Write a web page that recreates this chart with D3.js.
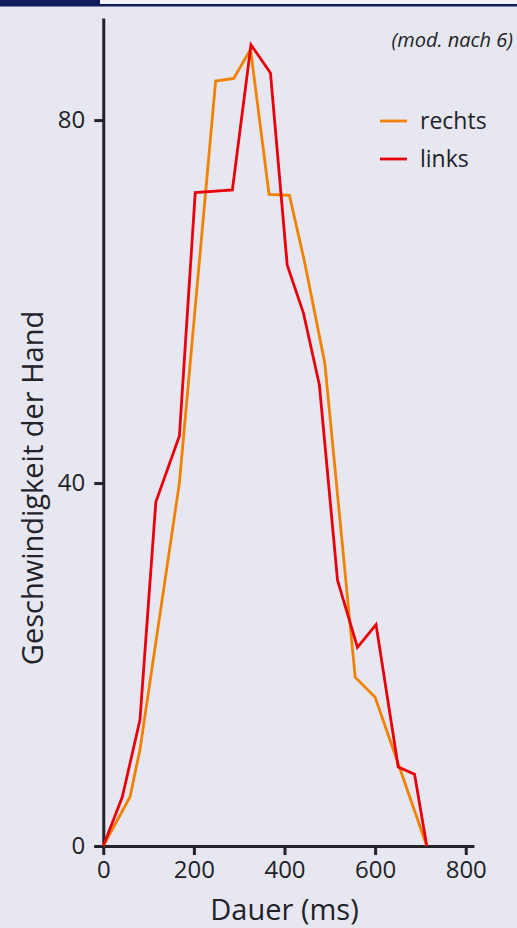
<!DOCTYPE html>
<html>
<head>
<meta charset="utf-8">
<script src="https://cdn.jsdelivr.net/npm/d3@7"></script>
<style>
  html, body { margin: 0; padding: 0; background: #e6e7f0; }
  svg { display: block; }
  text { font-family: "Open Sans", "Noto Sans", sans-serif; fill: #222228; }
</style>
</head>
<body>
<svg id="chart" width="517" height="928"></svg>
<script>
// Hand velocity over movement duration, right vs. left hand
const timeRechts = [0, 59, 81, 168, 248, 288, 325, 366, 411, 445, 489, 556, 600, 714];
const speedRechts = [0, 5.4, 10.6, 40, 84.3, 84.6, 87.8, 71.8, 71.7, 64.2, 53.2, 18.6, 16.4, 0];

const timeLinks = [0, 42, 81, 116, 168, 203, 285, 326, 369, 406, 442, 477, 517, 561, 602, 651, 687, 714];
const speedLinks = [0, 5.4, 13.9, 37.9, 45.2, 72.0, 72.3, 88.3, 85.2, 64.0, 58.7, 50.8, 29.3, 21.9, 24.4, 8.7, 7.9, 0];

const xTicks = [0, 200, 400, 600, 800];
const yTicks = [0, 40, 80];

const seriesNames = ["rechts", "links"];
const seriesColors = ["#f28100", "#e8000b"];

const svg = d3.select("#chart");

// header strip
svg.append("rect").attr("x", 100).attr("y", 0).attr("width", 417).attr("height", 4).attr("fill", "#f1f1f6");
svg.append("rect").attr("x", 0).attr("y", 0).attr("width", 100).attr("height", 6.5).attr("fill", "#111a5f");
svg.append("rect").attr("x", 100).attr("y", 4).attr("width", 417).attr("height", 2.5).attr("fill", "#111a5f");

const x = d3.scaleLinear().domain([-20, 818]).range([94.2, 473.9]);
const y = d3.scaleLinear().domain([0, 91.25]).range([846, 18]);

const axisColor = "#222228";

// x axis
const gx = svg.append("g").attr("transform", `translate(0,${y(0)})`)
  .call(d3.axisBottom(x).tickValues(xTicks).tickSize(9).tickSizeOuter(0).tickPadding(6).tickFormat(d3.format("d")));
gx.select(".domain").attr("stroke", axisColor).attr("stroke-width", 3);
gx.selectAll(".tick line").attr("stroke", axisColor).attr("stroke-width", 3);
gx.selectAll(".tick text").attr("font-size", 24).attr("fill", axisColor)
  .attr("font-family", "'Open Sans', sans-serif");

// y axis
const gy = svg.append("g").attr("transform", `translate(${x(0)},0)`)
  .call(d3.axisLeft(y).tickValues(yTicks).tickSize(9).tickSizeOuter(0).tickPadding(9).tickFormat(d3.format("d")));
gy.select(".domain").attr("stroke", axisColor).attr("stroke-width", 3);
gy.selectAll(".tick line").attr("stroke", axisColor).attr("stroke-width", 3);
gy.selectAll(".tick text").attr("font-size", 24).attr("fill", axisColor)
  .attr("font-family", "'Open Sans', sans-serif");

// axis titles
svg.append("text")
  .attr("x", x(400)).attr("y", 920)
  .attr("text-anchor", "middle")
  .attr("font-size", 29)
  .text("Dauer (ms)");

svg.append("text")
  .attr("transform", `translate(43,${488}) rotate(-90)`)
  .attr("text-anchor", "middle")
  .attr("font-size", 29)
  .text("Geschwindigkeit der Hand");

// source note
svg.append("text")
  .attr("x", 513).attr("y", 47)
  .attr("text-anchor", "end")
  .attr("font-size", 20)
  .attr("font-style", "italic")
  .text("(mod. nach 6)");

// lines
const line = d3.line().x(d => x(d[0])).y(d => y(d[1]));
const seriesData = [
  d3.zip(timeRechts, speedRechts),
  d3.zip(timeLinks, speedLinks)
];

seriesData.forEach((data, i) => {
  svg.append("path")
    .datum(data)
    .attr("fill", "none")
    .attr("stroke", seriesColors[i])
    .attr("stroke-width", 2.8)
    .attr("stroke-linejoin", "miter")
    .attr("d", line);
});

// legend
const legend = svg.append("g");
seriesNames.forEach((name, i) => {
  const ly = 121 + i * 38;
  legend.append("line")
    .attr("x1", 380).attr("x2", 407)
    .attr("y1", ly).attr("y2", ly)
    .attr("stroke", seriesColors[i]).attr("stroke-width", 2.8);
  legend.append("text")
    .attr("x", 420).attr("y", ly + 8)
    .attr("font-size", 23)
    .text(name);
});
</script>
</body>
</html>
